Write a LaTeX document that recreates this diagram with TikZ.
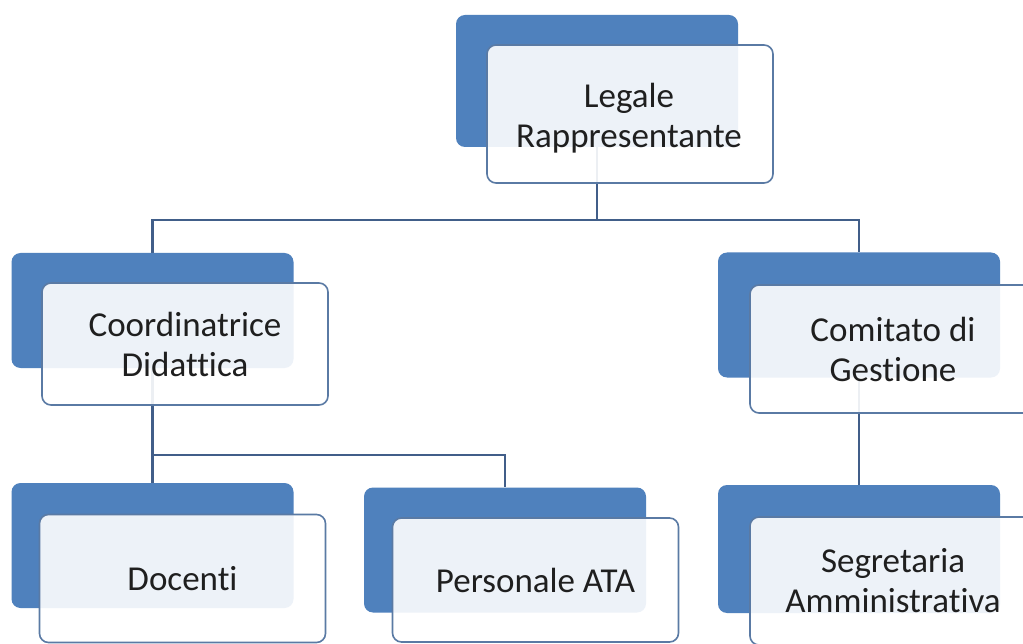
\documentclass[tikz,border=0pt]{standalone}
\usepackage{fontspec}
\setmainfont{Carlito}[Ligatures=NoCommon]
\usepackage{tikz}
\usetikzlibrary{positioning,backgrounds}
\definecolor{cardblue}{HTML}{4F81BD}
\definecolor{cardline}{HTML}{5A7AA4}
\definecolor{connline}{HTML}{415E89}

\begin{document}
\begin{tikzpicture}[x=1pt, y=-1pt,
    cardbk/.style={rectangle, rounded corners=9pt, fill=cardblue,
      minimum width=282pt, minimum height=125pt, inner sep=0pt},
    card/.style={rectangle, rounded corners=9pt, draw=cardline, line width=1.6pt,
      fill=white, fill opacity=0.9, text opacity=1, text=black!88,
      minimum width=286pt, minimum height=128pt, inner sep=0pt, align=center,
      font=\fontsize{35}{40}\selectfont},
    cardtext/.style={align=center, font=\fontsize{35}{40}\selectfont, text=black!88},
    conn/.style={draw=connline, line width=2.8pt}]
		\useasboundingbox (0,0) rectangle (1023,644);

		% back cards
		\node[cardbk, minimum height=132pt] (lrb) at (597,81) {};
		\node[cardbk, minimum height=115pt] (cdb) at (152.5,310.5) {};
		\node[cardbk] (cgb) at (859,315) {};
		\node[cardbk] (docb) at (152.5,545.5) {};
		\node[cardbk] (atab) at (505,550) {};
		\node[cardbk, minimum height=128pt] (sab) at (859,549) {};

		% front cards
		\node[card, minimum height=138pt] (lr) at (630,114) {};
		\node[cardtext] (lrt) at (629,118) {Legale\\Rappresentante};
		\node[card, minimum height=122pt] (cd) at (185,344) {Coordinatrice\\Didattica};
		\node[card] (cg) at (893,349) {Comitato di\\Gestione};
		\node[card] (doc) at (182.5,578.5) {Docenti};
		\node[card, minimum height=124pt] (ata) at (535.5,580) {Personale ATA};
		\node[card] (sa) at (893,581) {Segretaria\\Amministrativa};

		\begin{scope}[on background layer]
			\fill[white] (0,0) rectangle (1023,644);
			\coordinate (bus1) at (597,220);
			\coordinate (bus2) at (152.5,455);
			\draw[conn] (lrb) -- (bus1) -| (cdb);
			\draw[conn] (bus1) -| (cgb);
			\draw[conn] (cdb) -- (bus2) -- (docb);
			\draw[conn] (bus2) -| (atab);
			\draw[conn] (cgb) -- (sab);
		\end{scope}
	\end{tikzpicture}
\end{document}
